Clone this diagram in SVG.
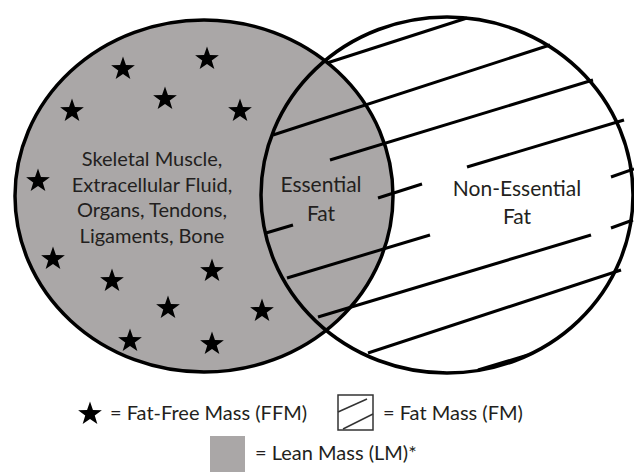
<svg xmlns="http://www.w3.org/2000/svg" xmlns:xlink="http://www.w3.org/1999/xlink" width="634" height="474" viewBox="0 0 634 474">
  <style>
    .ring { stroke: #000; stroke-width: 3.5; }
    .hatch line { stroke: #000; stroke-width: 3; stroke-linecap: butt; }
    .lbl { font-family: Lato, "Open Sans", sans-serif; font-size: 20px; fill: #231f20; text-anchor: middle; }
    .lbl2 { font-family: Lato, "Open Sans", sans-serif; font-size: 21px; fill: #231f20; text-anchor: middle; }
    .leg { font-family: Lato, "Open Sans", sans-serif; font-size: 20px; fill: #231f20; }
  </style>
  <defs>
    <path id="star" d="M0,-12.5 L2.94,-4.05 L11.89,-3.86 L4.76,1.55 L7.35,10.11 L0,5 L-7.35,10.11 L-4.76,1.55 L-11.89,-3.86 L-2.94,-4.05Z" fill="#000"/>
  </defs>
  <rect width="634" height="474" fill="#fff"/>

  <g id="lean-mass-circle">
    <ellipse cx="204" cy="196" rx="189" ry="176" fill="#aaa7a7" class="ring"/>
  </g>

  <g id="fat-mass-circle">
    <ellipse cx="447" cy="195" rx="186" ry="178" fill="none" class="ring"/>
  </g>

  <g id="hatch" class="hatch">
    <line x1="327" y1="63" x2="467" y2="18"/>
    <line x1="273" y1="135" x2="550" y2="45"/>
    <line x1="330" y1="160" x2="593" y2="80"/>
    <line x1="467" y1="167" x2="624" y2="120"/>
    <line x1="611" y1="177" x2="634" y2="169"/>
    <line x1="378" y1="198" x2="422" y2="184"/>
    <line x1="266" y1="233" x2="293" y2="225"/>
    <line x1="287" y1="278" x2="430" y2="235"/>
    <line x1="318" y1="317" x2="591" y2="235"/>
    <line x1="611" y1="228" x2="633" y2="220"/>
    <line x1="368" y1="353" x2="621" y2="270"/>
    <line x1="478" y1="370" x2="528" y2="355"/>
  </g>

  <g id="stars">
    <use xlink:href="#star" x="123" y="69"/>
    <use xlink:href="#star" x="207" y="59"/>
    <use xlink:href="#star" x="72" y="111"/>
    <use xlink:href="#star" x="165" y="99"/>
    <use xlink:href="#star" x="240" y="111"/>
    <use xlink:href="#star" x="38" y="181"/>
    <use xlink:href="#star" x="53" y="259"/>
    <use xlink:href="#star" x="112" y="281"/>
    <use xlink:href="#star" x="212" y="271"/>
    <use xlink:href="#star" x="168" y="308"/>
    <use xlink:href="#star" x="262" y="311"/>
    <use xlink:href="#star" x="130" y="341"/>
    <use xlink:href="#star" x="212" y="344"/>
  </g>

  <g id="ffm-label">
    <text class="lbl" x="152" y="166">Skeletal Muscle,</text>
    <text class="lbl" x="152" y="192">Extracellular Fluid,</text>
    <text class="lbl" x="152" y="217">Organs, Tendons,</text>
    <text class="lbl" x="152" y="243">Ligaments, Bone</text>
  </g>

  <g id="essential-fat">
    <text class="lbl2" x="321" y="192">Essential</text>
    <text class="lbl2" x="321" y="221">Fat</text>
  </g>

  <g id="non-essential-fat">
    <text class="lbl2" x="517" y="196">Non-Essential</text>
    <text class="lbl2" x="517" y="224">Fat</text>
  </g>

  <g id="legend-ffm">
    <use xlink:href="#star" x="90" y="414"/>
    <text class="leg" x="110" y="420">= Fat-Free Mass (FFM)</text>
  </g>

  <g id="legend-fm">
    <rect x="338" y="395" width="35" height="35" fill="#fff" stroke="#333" stroke-width="1.5"/>
    <line x1="338" y1="412" x2="367" y2="399" stroke="#333" stroke-width="1.5"/>
    <line x1="343" y1="429" x2="373" y2="414" stroke="#333" stroke-width="1.5"/>
    <text class="leg" x="383" y="420">= Fat Mass (FM)</text>
  </g>

  <g id="legend-lm">
    <rect x="210" y="436" width="35" height="36" fill="#aaa7a7"/>
    <text class="leg" x="255" y="460">= Lean Mass (LM)*</text>
  </g>
</svg>
